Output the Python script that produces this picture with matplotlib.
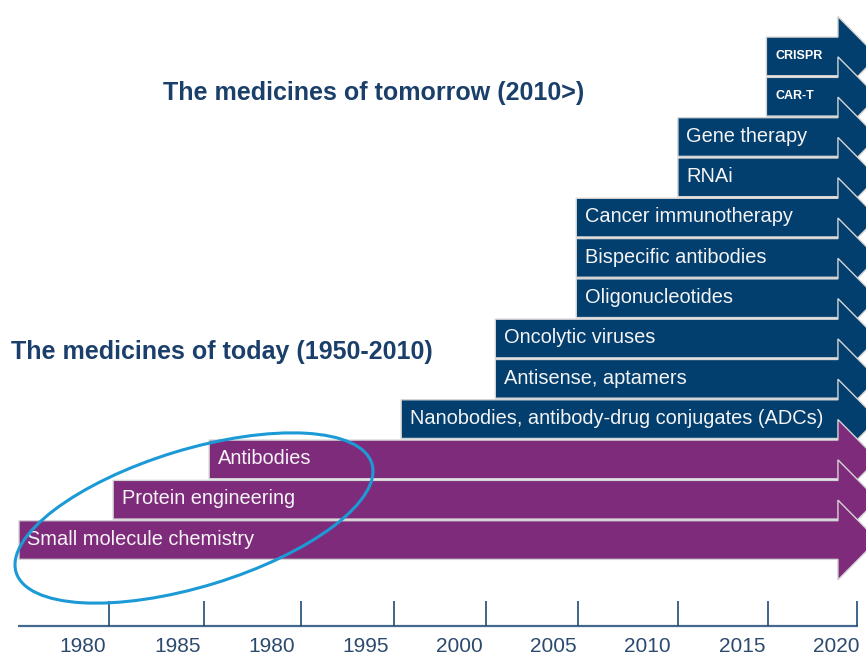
import matplotlib.pyplot as plt
from matplotlib import font_manager
from matplotlib.patches import Polygon, Ellipse

# rows from bottom to top
techs = ['Small molecule chemistry', 'Protein engineering', 'Antibodies',
         'Nanobodies, antibody-drug conjugates (ADCs)', 'Antisense, aptamers',
         'Oncolytic viruses', 'Oligonucleotides', 'Bispecific antibodies',
         'Cancer immunotherapy', 'RNAi', 'Gene therapy', 'CAR-T', 'CRISPR']
start_year = [1976.6, 1981.6, 1986.7, 1996.9, 2001.9, 2001.9, 2006.2, 2006.2,
              2006.2, 2011.6, 2011.6, 2016.3, 2016.3]
era = ['today'] * 3 + ['tomorrow'] * 10
end_year = 2020.1
tip_year = 2022.2

tick_pos = [1981.4, 1986.4, 1991.6, 1996.5, 2001.4, 2006.3, 2011.6, 2016.4, 2021.1]
label_pos = [1980, 1985, 1990, 1995, 2000, 2005, 2010, 2015, 2020]
label_txt = ['1980', '1985', '1980', '1995', '2000', '2005', '2010', '2015', '2020']

colors = {'today': '#7f2b7c', 'tomorrow': '#023e6e'}
title_col = '#1b3f6b'

names = {f.name for f in font_manager.fontManager.ttflist}
narrow = 'Liberation Sans Narrow' if 'Liberation Sans Narrow' in names else 'Liberation Sans'
plt.rcParams['font.family'] = ['Liberation Sans', 'DejaVu Sans']

fig = plt.figure(figsize=(8.66, 6.56), dpi=100)
ax = fig.add_axes([0, 0, 1, 1])
ax.set_xlim(1975.59, 2021.59)
ax.set_ylim(-2.878, 13.40)
ax.axis('off')

h = 0.48   # half body height (rows)
H = 0.99   # half head height
for i in range(len(techs) - 1, -1, -1):
    x0 = start_year[i]
    verts = [(x0, i - h), (end_year, i - h), (end_year, i - H), (tip_year, i),
             (end_year, i + H), (end_year, i + h), (x0, i + h)]
    ax.add_patch(Polygon(verts, closed=True, fc=colors[era[i]], ec='#d4d4d4',
                         lw=1.0, zorder=20 - i))
    if techs[i] in ('CAR-T', 'CRISPR'):
        ax.text(x0 + 0.5, i + 0.02, techs[i], color='white', fontsize=9,
                fontweight='bold', va='center', ha='left', zorder=40)
    else:
        ax.text(x0 + 0.45, i + 0.02, techs[i], color='#f4f4f4', fontsize=14.4,
                va='center', ha='left', zorder=40)

# time axis
ax.plot([1976.55, 2021.15], [-2.134, -2.134], color='#44698f', lw=1.6,
        solid_capstyle='butt', zorder=5)
ax.vlines(tick_pos, -2.134, -1.51, color='#1f4b76', lw=1.2, zorder=5)
for x, t in zip(label_pos, label_txt):
    ax.text(x, -2.64, t, ha='center', va='center', fontsize=15,
            family=narrow, color='#2b4a6e')

# headings
fig.text(163 / 866, 1 - 93 / 656, 'The medicines of tomorrow (2010>)',
         fontsize=18, fontweight='bold', color=title_col, va='center', ha='left')
fig.text(11 / 866, 1 - 352 / 656, 'The medicines of today (1950-2010)',
         fontsize=18, fontweight='bold', color=title_col, va='center', ha='left')

# circle around the older technologies
ax.add_patch(Ellipse((1.94, 6.56 - 5.18), 3.72, 1.37, angle=17, fill=False,
                     ec='#1b9ad6', lw=2.2, transform=fig.dpi_scale_trans,
                     zorder=50))

fig.savefig('out.png', dpi=100)
